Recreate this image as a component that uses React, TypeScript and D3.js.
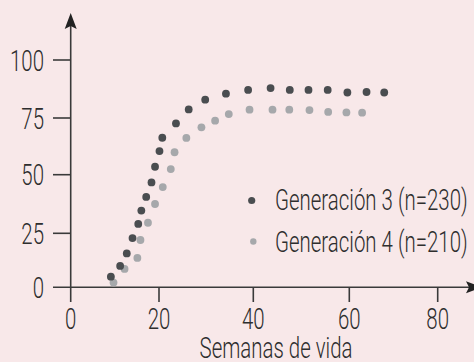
import React from "react";
import * as d3 from "d3";

const xTicks = [0, 20, 40, 60, 80];
const yTicks = [0, 25, 50, 75, 100];

const gen3Weeks = [9.1, 11.2, 12.7, 14.0, 15.3, 16.0, 17.1, 18.3, 19.1, 20.1, 20.7, 23.6, 26.3, 29.8, 34.2, 38.9, 43.6, 47.6, 51.5, 55.5, 59.6, 63.9, 67.9];
const gen3Values = [4.9, 9.9, 15.7, 22.8, 29.0, 34.7, 40.5, 46.7, 53.5, 60.4, 66.3, 72.6, 78.7, 82.9, 85.5, 87.1, 87.9, 87.1, 87.1, 87.1, 86.0, 86.2, 86.0];

const gen4Weeks = [9.7, 12.2, 15.1, 15.8, 17.5, 19.1, 20.8, 22.5, 23.3, 25.8, 29.0, 31.9, 34.8, 39.2, 44.0, 47.5, 51.7, 55.6, 59.4, 62.9];
const gen4Values = [2.2, 8.5, 13.6, 21.9, 29.5, 37.5, 44.7, 52.5, 59.9, 66.2, 70.9, 73.8, 76.7, 78.6, 78.6, 78.6, 78.4, 77.6, 77.4, 77.3];

const seriesNames = ["Generación 3 (n=230)", "Generación 4 (n=210)"];
const xTitle = "Semanas de vida";

const W = 474;
const H = 362;
const BG = "#f8e8e9";
const AXIS = "#3a3a3a";
const TEXT = "#2e2e2e";
const DARK = "#4a4d50";
const LIGHT = "#a6a8ab";
const FONT = "Roboto, 'Liberation Sans', sans-serif";
const FS = 29;
const SX = 0.705;

// the printed axis is not perfectly even, so scales follow the tick marks
const x = d3.scaleLinear().domain(xTicks).range([70.7, 159, 253.3, 349.3, 437.7]);
const y = d3.scaleLinear().domain(yTicks).range([287.3, 233.3, 174.7, 118, 60]);

function Label({ x0, y0, anchor, children }: { x0: number; y0: number; anchor: string; children: string }) {
  return (
    <text
      transform={`translate(${x0},${y0}) scale(${SX},1)`}
      textAnchor={anchor as any}
      fontFamily={FONT}
      fontWeight={300}
      fontSize={FS}
      fill={TEXT}
    >
      {children}
    </text>
  );
}

export default function App() {
  const x0 = x(0);
  const y0 = y(0);
  const g3 = gen3Weeks.map((w, i) => [w, gen3Values[i]]);
  const g4 = gen4Weeks.map((w, i) => [w, gen4Values[i]]);
  return (
    <svg width={W} height={H} style={{ position: "absolute", left: 0, top: 0, display: "block" }}>
      <rect width={W} height={H} fill={BG} />
      {/* axes */}
      <line x1={x0} x2={x0} y1={24} y2={302} stroke={AXIS} strokeWidth={1.6} />
      <line x1={53} x2={470} y1={y0} y2={y0} stroke={AXIS} strokeWidth={1.6} />
      <path d={`M${x0},${13} L${x0 + 6},${29} L${x0},${26} L${x0 - 6},${29} Z`} fill="#222" />
      <path d={`M${482},${y0} L${466},${y0 - 6} L${469},${y0} L${466},${y0 + 6} Z`} fill="#222" />
      {yTicks.filter((t) => t !== 0).map((t) => (
        <line key={"yt" + t} x1={53} x2={x0} y1={y(t)} y2={y(t)} stroke={AXIS} strokeWidth={1.6} />
      ))}
      {xTicks.filter((t) => t !== 0).map((t) => (
        <line key={"xt" + t} x1={x(t)} x2={x(t)} y1={y0} y2={302} stroke={AXIS} strokeWidth={1.6} />
      ))}
      {yTicks.map((t) => (
        <Label key={"yl" + t} x0={44} y0={y(t) + 10.5} anchor="end">{String(t)}</Label>
      ))}
      {xTicks.map((t) => (
        <Label key={"xl" + t} x0={x(t)} y0={329} anchor="middle">{String(t)}</Label>
      ))}
      <Label x0={276} y0={358} anchor="middle">{xTitle}</Label>
      {/* data */}
      {g4.map(([w, v], i) => (
        <circle key={"g4" + i} cx={x(w)} cy={y(v)} r={3.9} fill={LIGHT} />
      ))}
      {g3.map(([w, v], i) => (
        <circle key={"g3" + i} cx={x(w)} cy={y(v)} r={3.9} fill={DARK} />
      ))}
      {/* legend */}
      <circle cx={251.7} cy={200.5} r={3.6} fill={DARK} />
      <circle cx={253.3} cy={241.5} r={3.2} fill={LIGHT} />
      <Label x0={275} y0={210} anchor="start">{seriesNames[0]}</Label>
      <Label x0={275} y0={251.5} anchor="start">{seriesNames[1]}</Label>
    </svg>
  );
}
